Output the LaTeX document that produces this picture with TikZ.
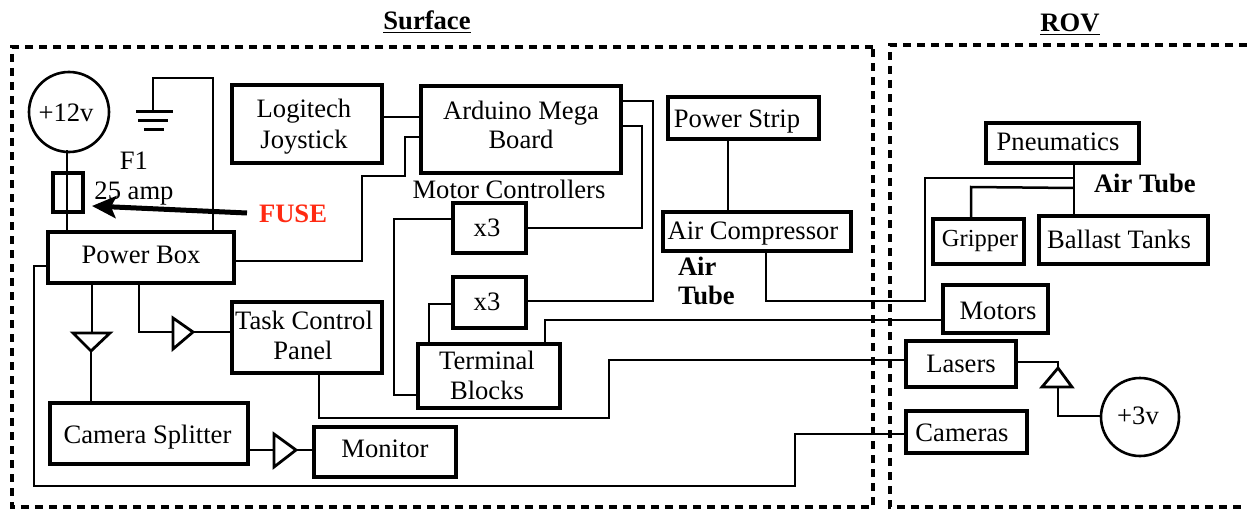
\documentclass[tikz,border=0pt]{standalone}
\usepackage{fontspec}
\setmainfont{Liberation Serif}
\usetikzlibrary{arrows.meta}
\definecolor{fusered}{HTML}{FF2A12}
\newcommand\fsn{\fontsize{26.6}{30}\selectfont}
\newcommand\fss{\fontsize{24.5}{28}\selectfont}
\newdimen\bldx \newdimen\bldy
\newcommand\bline[3]{\pgfmathsetlength{\bldx}{#1-\bcx}\pgfmathsetlength{\bldy}{\bcy-#2}\kern\bldx\raisebox{\bldy}[0pt][0pt]{\makebox[0pt]{#3}}\kern-\bldx}
\newcommand\bx[6]{\pgfmathsetmacro\bcx{(#2+#4)/2}\pgfmathsetmacro\bcy{(#3+#5)/2}\pgfmathsetmacro\bw{#4-#2}\pgfmathsetmacro\bh{#5-#3}
  \node[boxn,minimum width=\bw pt,minimum height=\bh pt] (#1) at (\bcx,\bcy) {#6};}
\newcommand\cx[5]{\def\bcx{#2}\def\bcy{#3}\node[circn,minimum size=#4 pt] (#1) at (#2,#3) {#5};}
\tikzset{
  boxn/.style={draw,line width=3.6pt,inner sep=0pt,outer sep=0pt,font=\fsn},
  circn/.style={draw,circle,line width=2.6pt,inner sep=0pt,outer sep=0pt,font=\fsn},
  wire/.style={draw,line width=2.5pt,line join=miter},
  frame/.style={draw,line width=4.4pt,dash pattern=on 8pt off 6pt},
  free/.style={inner sep=0pt,outer sep=0pt,anchor=base,font=\fsn},
  bfree/.style={free,font=\fsn\bfseries},
  amp/.style={draw,line width=2.8pt,line join=miter,fill=white}
}
\begin{document}
\begin{tikzpicture}[x=1pt,y=-1pt]
\useasboundingbox (0,0) rectangle (1247,511);
% frames
\draw[frame] (873,47) -- (12,47) -- (12,507) -- (873,507) -- cycle;
\draw[frame] (1247,45) -- (890,45) -- (890,507) -- (1247,507);
% titles
\node[bfree] (tsurf) at (427,30) {\underline{Surface}};
\node[bfree] (trov) at (1070,32) {\underline{ROV}};
% boxes
\bx{logi}{232}{85}{382}{163}{\bline{304}{118}{Logitech}\bline{304}{148}{Joystick}}
\bx{ard}{421}{86}{621}{173}{\bline{521}{119}{Arduino Mega}\bline{521}{148}{Board}}
\bx{strip}{668}{97}{819}{139}{\bline{737}{127}{Power Strip}}
\bx{comp}{663}{212}{851}{251}{\bline{753}{239}{Air Compressor}}
\bx{mcA}{453}{203}{526}{253}{\bline{487}{236}{x3}}
\bx{mcB}{453}{277}{526}{328}{\bline{487}{310}{x3}}
\bx{term}{418}{344}{560}{408}{\bline{487}{369}{Terminal}\bline{487}{399}{Blocks}}
\bx{pbox}{48}{232}{234}{283}{\bline{141}{263}{Power Box}}
\bx{task}{232}{302}{382}{373}{\bline{304}{329}{Task Control}\bline{303}{359}{Panel}}
\bx{split}{50}{403}{248}{464}{\bline{147.5}{443}{Camera Splitter}}
\bx{mon}{314}{427}{456}{477}{\bline{385}{457}{Monitor}}
\bx{pneu}{986}{123}{1139}{163}{\bline{1058}{150}{Pneumatics}}
\bx{grip}{933}{219}{1024}{264}{\bline{980}{246}{\fss Gripper}}
\bx{ball}{1039}{216}{1208}{264}{\bline{1119}{248}{Ballast Tanks}}
\bx{mot}{943}{285}{1048}{333}{\bline{998}{319}{Motors}}
\bx{las}{906}{341}{1016}{387}{\bline{961}{372}{Lasers}}
\bx{cam}{906}{411}{1027}{453}{\bline{962}{441}{Cameras}}
\bx{fuse}{53}{173}{83}{212}{}
\cx{vtw}{69}{112}{80}{\bline{66}{121}{+12v}}
\cx{vth}{1140}{417}{78}{\bline{1138}{424}{+3v}}
% free text
\node[free] (fone) at (134,169) {F1};
\node[free] (famp) at (134,199) {25 amp};
\node[free] (mctext) at (509,198) {Motor Controllers};
\node[bfree,anchor=base west] (ata) at (678,275) {Air};
\node[bfree,anchor=base west] (atb) at (678,304) {Tube};
\node[bfree,anchor=base west] (atc) at (1094,192) {Air Tube};
\node[bfree,anchor=base west,text=fusered] (fusetxt) at (259,222) {FUSE};
% ground
\coordinate (gnd) at (153,111);
\draw[wire] (pbox.north -| 213,0) -- (213,78) -- (153,78) -- (gnd);
\draw[line width=3pt] (136,111) -- (173,111) (138,120) -- (168,120) (144,129) -- (164,129);
% power
\draw[wire] (67,150) -- (pbox.north -| 67,0);
% arrow
\coordinate (fusetip) at (92,206);
\draw[line width=5pt,-{Stealth[length=24pt,width=22pt,inset=5pt]}] (fusetxt.west |- 0,213) ++(-12,0) -- (fusetip);
% wires
\draw[wire] (logi.east |- 0,117) -- (ard.west |- 0,117);
\draw[wire] (pbox.east |- 0,261) -- (362,261) -- (362,176) -- (405,176) -- (405,137) -- (ard.west |- 0,137);
\draw[wire] (pbox.west |- 0,266) -- (34,266) -- (34,486) -- (795,486) -- (795,434) -- (cam.west |- 0,434);
\draw[wire] (task.south -| 319,0) -- (319,418) -- (609,418) -- (609,360) -- (las.west |- 0,360);
\draw[wire] (ard.east |- 0,101) -- (653,101) -- (653,301) -- (mcB.east |- 0,301);
\draw[wire] (ard.east |- 0,126) -- (642,126) -- (642,228) -- (mcA.east |- 0,228);
\draw[wire] (mcA.west |- 0,219) -- (394,219) -- (394,395) -- (term.west |- 0,395);
\draw[wire] (mcB.west |- 0,304) -- (429,304) -- (term.north -| 429,0);
\draw[wire] (term.north -| 545,0) -- (545,320) -- (mot.west |- 0,320);
\draw[wire] (strip.south -| 728,0) -- (comp.north -| 728,0);
\draw[wire] (comp.south -| 766,0) -- (766,301) -- (925,301) -- (925,178) -- (1074,178);
\draw[wire] (pneu.south -| 1074,0) -- (ball.north -| 1074,0);
\draw[wire] (grip.north -| 971,0) -- (971,187) -- (1074,188);
% amplifier triangles and their wires
\coordinate (ampAa) at (91,351);
\draw[wire] (pbox.south -| 92,0) -- (92,333);
\draw[wire] (ampAa) -- (split.north -| 91,0);
\draw[amp] (73,333) -- (110,333) -- (ampAa) -- cycle;
\coordinate (ampBa) at (193,332);
\draw[wire] (pbox.south -| 139,0) -- (139,332) -- (173,332);
\draw[wire] (ampBa) -- (task.west |- 0,332);
\draw[amp] (173,318) -- (173,349) -- (ampBa) -- cycle;
\coordinate (ampCa) at (296,450);
\draw[wire] (split.east |- 0,450) -- (274,450);
\draw[wire] (ampCa) -- (mon.west |- 0,450);
\draw[amp] (274,434) -- (274,467) -- (ampCa) -- cycle;
\coordinate (ampDa) at (1058,368);
\draw[wire] (las.east |- 0,362) -- (1058,362) -- (ampDa);
\draw[wire] (1058,387) -- (1058,416) -- (vth.west |- 0,416);
\draw[amp] (1042,387) -- (1072,387) -- (ampDa) -- cycle;
\end{tikzpicture}
\end{document}
